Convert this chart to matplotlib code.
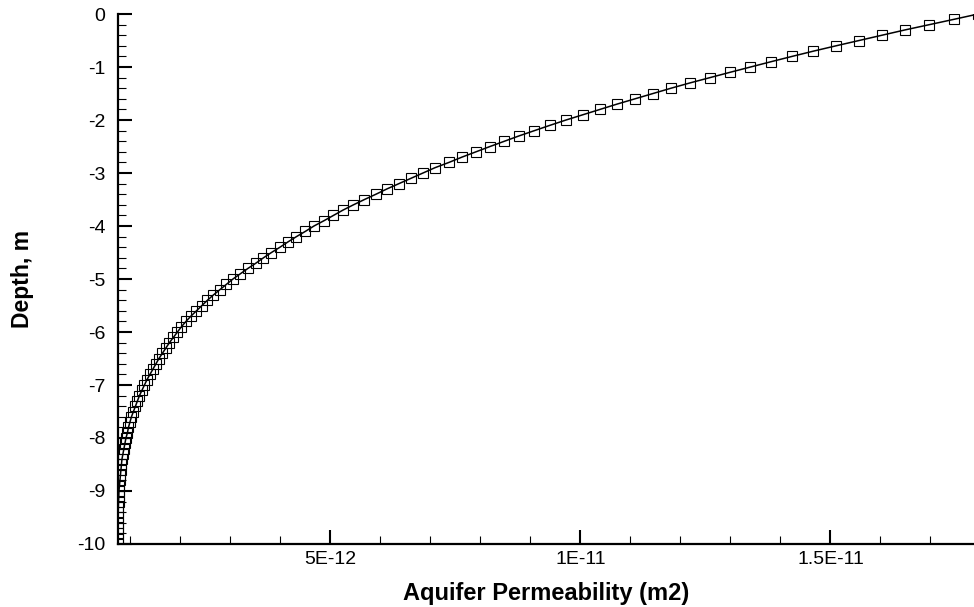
import numpy as np
import matplotlib
matplotlib.use('Agg')
import matplotlib.pyplot as plt
from matplotlib.ticker import MultipleLocator

plt.rcParams['font.family'] = ['Liberation Sans', 'DejaVu Sans']
plt.rcParams['axes.unicode_minus'] = False

# depth (m) and permeability (units of 1E-12 m2)
depth = [0.0, -0.1, -0.2, -0.3, -0.4, -0.5, -0.6, -0.7, -0.8, -0.9,
         -1.0, -1.1, -1.2, -1.3, -1.4, -1.5, -1.6, -1.7, -1.8, -1.9,
         -2.0, -2.1, -2.2, -2.3, -2.4, -2.5, -2.6, -2.7, -2.8, -2.9,
         -3.0, -3.1, -3.2, -3.3, -3.4, -3.5, -3.6, -3.7, -3.8, -3.9,
         -4.0, -4.1, -4.2, -4.3, -4.4, -4.5, -4.6, -4.7, -4.8, -4.9,
         -5.0, -5.1, -5.2, -5.3, -5.4, -5.5, -5.6, -5.7, -5.8, -5.9,
         -6.0, -6.1, -6.2, -6.3, -6.4, -6.5, -6.6, -6.7, -6.8, -6.9,
         -7.0, -7.1, -7.2, -7.3, -7.4, -7.5, -7.6, -7.7, -7.8, -7.9,
         -8.0, -8.1, -8.2, -8.3, -8.4, -8.5, -8.6, -8.7, -8.8, -8.9,
         -9.0, -9.1, -9.2, -9.3, -9.4, -9.5, -9.6, -9.7, -9.8, -9.9,
         -10.0]

perm_e12 = [17.95, 17.47, 16.98, 16.49, 16.03, 15.57, 15.11, 14.66, 14.23, 13.81,
            13.40, 12.99, 12.59, 12.19, 11.81, 11.45, 11.09, 10.73, 10.39, 10.05,
            9.71, 9.39, 9.08, 8.77, 8.48, 8.19, 7.91, 7.63, 7.37, 7.09,
            6.85, 6.61, 6.37, 6.13, 5.91, 5.68, 5.46, 5.25, 5.06, 4.87,
            4.67, 4.50, 4.32, 4.15, 3.99, 3.82, 3.66, 3.51, 3.35, 3.20,
            3.05, 2.92, 2.79, 2.66, 2.54, 2.43, 2.32, 2.21, 2.11, 2.02,
            1.94, 1.86, 1.78, 1.71, 1.64, 1.57, 1.51, 1.45, 1.39, 1.33,
            1.28, 1.23, 1.18, 1.14, 1.10, 1.06, 1.02, 0.99, 0.96, 0.94,
            0.91, 0.89, 0.87, 0.85, 0.83, 0.82, 0.81, 0.80, 0.79, 0.78,
            0.77, 0.766, 0.761, 0.758, 0.755, 0.753, 0.752, 0.751, 0.750, 0.750,
            0.750]

xtick_vals = [5e-12, 1e-11, 1.5e-11]
xtick_labels = ['5E-12', '1E-11', '1.5E-11']
ytick_vals = [0, -1, -2, -3, -4, -5, -6, -7, -8, -9, -10]
ytick_labels = ['0', '-1', '-2', '-3', '-4', '-5', '-6', '-7', '-8', '-9', '-10']

perm = np.array(perm_e12) * 1e-12

fig = plt.figure(figsize=(9.74, 6.07), dpi=100)
ax = fig.add_axes([0.1211, 0.1038, 0.8789, 0.8731])

ax.plot(perm, depth, color='k', linewidth=1.1, marker='s', markersize=6.5,
        markerfacecolor='none', markeredgecolor='k', markeredgewidth=0.8)

ax.set_xlim(0.75e-12, 17.87e-12)
ax.set_ylim(-10, 0)

ax.set_xticks(xtick_vals)
ax.set_xticklabels(xtick_labels)
ax.set_yticks(ytick_vals)
ax.set_yticklabels(ytick_labels)
ax.xaxis.set_minor_locator(MultipleLocator(1e-12))
ax.yaxis.set_minor_locator(MultipleLocator(0.2))

for s in ['top', 'right']:
    ax.spines[s].set_visible(False)
for s in ['left', 'bottom']:
    ax.spines[s].set_linewidth(1.6)

ax.tick_params(which='major', direction='in', length=10, width=1.5, labelsize=14)
ax.tick_params(which='minor', direction='in', length=6, width=0.8)
ax.tick_params(axis='y', which='major', pad=9)
ax.tick_params(axis='x', which='major', pad=5)

ax.set_xlabel('Aquifer Permeability (m2)', fontsize=17, fontweight='bold', labelpad=10)
ax.set_ylabel('Depth, m', fontsize=16.5, fontweight='bold', labelpad=31)

plt.savefig('out.png', dpi=100)
